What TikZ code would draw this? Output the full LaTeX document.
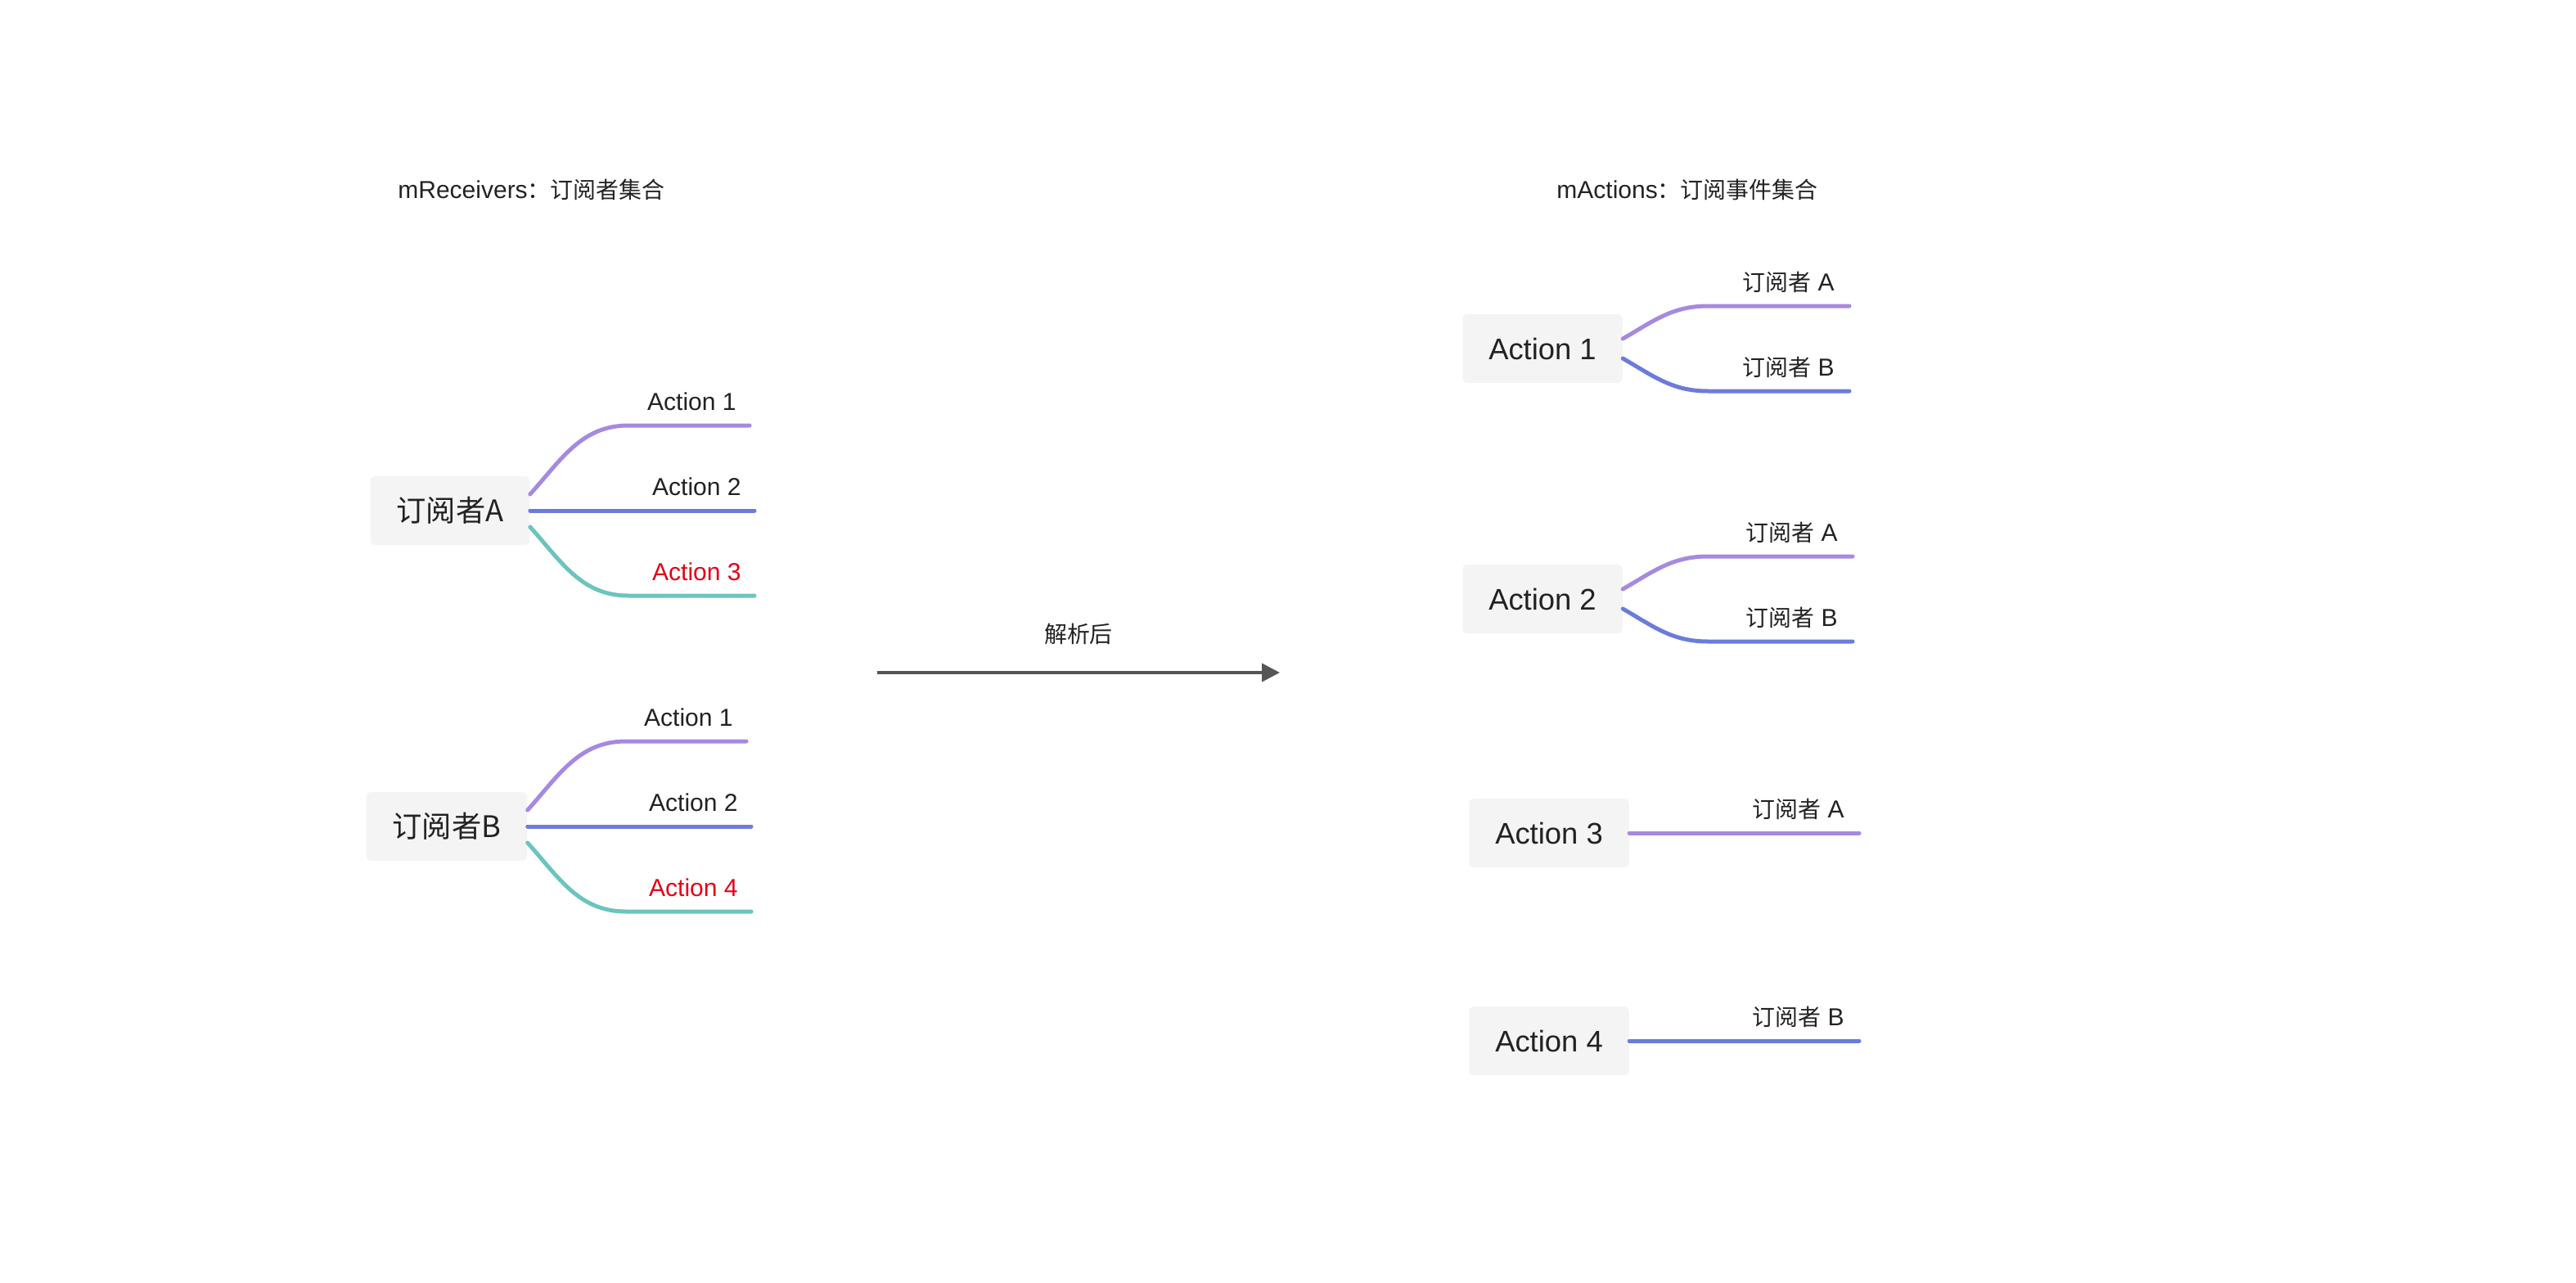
\documentclass[tikz,border=0pt]{standalone}
\usepackage{fontspec}
\setmainfont{Liberation Sans}
\newfontfamily\cjk[Scale=0.93]{Noto Sans CJK SC}
\usepackage{tikz}
\usetikzlibrary{positioning, arrows.meta}

\definecolor{boxgray}{HTML}{F4F4F4}
\definecolor{ink}{HTML}{222222}
\definecolor{lpurple}{HTML}{A689E0}
\definecolor{lblue}{HTML}{6C7CDC}
\definecolor{lteal}{HTML}{6CC4BE}
\definecolor{hot}{HTML}{E30016}
\definecolor{flowgray}{HTML}{555555}

\tikzset{
  box/.style={fill=boxgray, rounded corners=3pt, minimum height=42pt, inner xsep=16pt, inner ysep=0pt, text=ink, font=\fontsize{18.2}{18.2}\selectfont},
  lab/.style={inner sep=0pt, text depth=0pt, text=ink, font=\fontsize{15}{15}\selectfont},
  head/.style={inner sep=0pt, text=ink, font=\fontsize{15}{15}\selectfont},
  lnP/.style={line width=2.5pt, line cap=round, draw=lpurple},
  lnB/.style={line width=2.5pt, line cap=round, draw=lblue},
  lnT/.style={line width=2.5pt, line cap=round, draw=lteal},
  flow/.style={line width=2pt, draw=flowgray, -{Triangle[length=11pt, width=11pt]}}
}

\begin{document}
\begin{tikzpicture}[x=1pt, y=1pt]
			\useasboundingbox (0,0) rectangle (1574,-784);

			% Titles
			\node (tRecv) [head, anchor=west] at (243,-116) {mReceivers{\cjk ：订阅者集合}};
			\node (tAct) [head, anchor=west] at (951,-116) {mActions{\cjk ：订阅事件集合}};

			% Receivers
			\node (rA) [box, font=\fontsize{19.5}{19.5}\selectfont] at (275,-312) {\cjk 订阅者A};
			\node (rB) [box, font=\fontsize{19.5}{19.5}\selectfont] at (273,-505) {\cjk 订阅者B};

			\coordinate (rA1) at (458,-260);
			\coordinate (rA2) at (461,-312);
			\coordinate (rA3) at (461,-364);
			\coordinate (rB1) at (456,-453);
			\coordinate (rB2) at (459,-505);
			\coordinate (rB3) at (459,-557);

			\node (lA1) [lab, above left=9pt and 8pt of rA1] {Action 1};
			\node (lA2) [lab, above left=9pt and 8pt of rA2] {Action 2};
			\node (lA3) [lab, above left=9pt and 8pt of rA3, text=hot] {Action 3};
			\node (lB1) [lab, above left=9pt and 8pt of rB1] {Action 1};
			\node (lB2) [lab, above left=9pt and 8pt of rB2] {Action 2};
			\node (lB3) [lab, above left=9pt and 8pt of rB3, text=hot] {Action 4};

			% Actions
			\node (act1) [box] at (942.5,-213) {Action 1};
			\node (act2) [box] at (942.5,-366) {Action 2};
			\node (act3) [box] at (946.5,-509) {Action 3};
			\node (act4) [box] at (946.5,-636) {Action 4};

			\coordinate (a1A) at (1130,-187);
			\coordinate (a1B) at (1130,-239);
			\coordinate (a2A) at (1132,-340);
			\coordinate (a2B) at (1132,-392);
			\coordinate (a3A) at (1136,-509);
			\coordinate (a4B) at (1136,-636);

			\node (l1A) [lab, above left=9pt and 9pt of a1A] {{\cjk 订阅者} A};
			\node (l1B) [lab, above left=9pt and 9pt of a1B] {{\cjk 订阅者} B};
			\node (l2A) [lab, above left=9pt and 9pt of a2A] {{\cjk 订阅者} A};
			\node (l2B) [lab, above left=9pt and 9pt of a2B] {{\cjk 订阅者} B};
			\node (l3A) [lab, above left=9pt and 9pt of a3A] {{\cjk 订阅者} A};
			\node (l4B) [lab, above left=9pt and 9pt of a4B] {{\cjk 订阅者} B};

			% Parse arrow
			\coordinate (pStart) at (536,-411);
			\coordinate (pEnd) at (782,-411);
			\node (lParse) [lab, font=\fontsize{15}{15}\selectfont] at (659,-387) {\cjk 解析后};

			% Edges
			\draw[lnP] ([yshift=10pt]rA.east) to[out=48, in=180] ++(60,42) -- (rA1);
			\draw[lnB] (rA.east) -- (rA2);
			\draw[lnT] ([yshift=-10pt]rA.east) to[out=-48, in=180] ++(60,-42) -- (rA3);

			\draw[lnP] ([yshift=10pt]rB.east) to[out=48, in=180] ++(60,42) -- (rB1);
			\draw[lnB] (rB.east) -- (rB2);
			\draw[lnT] ([yshift=-10pt]rB.east) to[out=-48, in=180] ++(60,-42) -- (rB3);

			\draw[lnP] ([yshift=6pt]act1.east) to[out=30, in=180] ++(52,20) -- (a1A);
			\draw[lnB] ([yshift=-6pt]act1.east) to[out=-30, in=180] ++(52,-20) -- (a1B);
			\draw[lnP] ([yshift=6pt]act2.east) to[out=30, in=180] ++(52,20) -- (a2A);
			\draw[lnB] ([yshift=-6pt]act2.east) to[out=-30, in=180] ++(52,-20) -- (a2B);
			\draw[lnP] (act3.east) -- (a3A);
			\draw[lnB] (act4.east) -- (a4B);

			\draw[flow] (pStart) -- (pEnd);

		\end{tikzpicture}
\end{document}
